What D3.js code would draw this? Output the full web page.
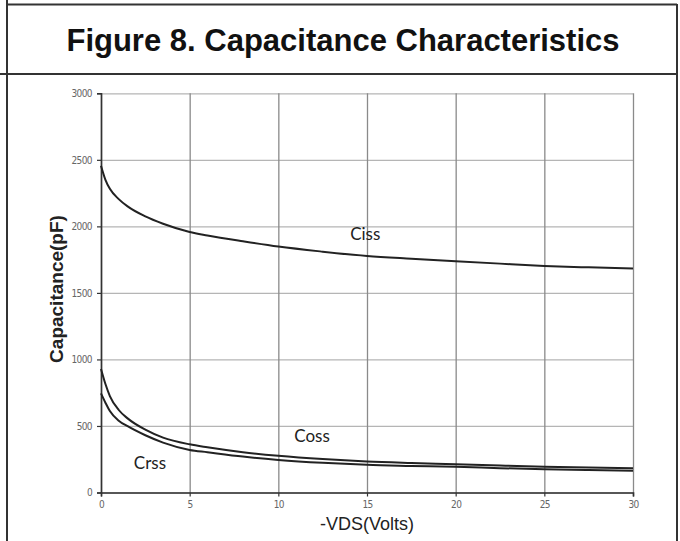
<!DOCTYPE html>
<html>
<head>
<meta charset="utf-8">
<script src="https://cdn.jsdelivr.net/npm/d3@7"></script>
<style>
  html, body { margin: 0; padding: 0; background: #fff; }
  svg { display: block; }
</style>
</head>
<body>
<svg id="chart" width="680" height="541"></svg>
<script>
// ---- data ----
const titleText = "Figure 8. Capacitance Characteristics";
const xLabel = "-VDS(Volts)";
const yLabel = "Capacitance(pF)";
const volts = [0, 0.25, 0.5, 1, 1.5, 2.5, 3.5, 5, 6, 8, 10, 12.5, 15, 17.5, 20, 22.5, 25, 27.5, 30];
const ciss  = [2456, 2350, 2282, 2205, 2150, 2075, 2020, 1958, 1932, 1888, 1848, 1810, 1778, 1757, 1738, 1720, 1703, 1692, 1683];
const coss  = [928, 815, 725, 620, 557, 472, 412, 362, 340, 303, 276, 251, 233, 222, 213, 203, 194, 188, 182];
const crss  = [745, 675, 612, 540, 498, 430, 375, 320, 303, 270, 245, 223, 208, 200, 193, 183, 175, 169, 164];
const seriesNames = ["Ciss", "Coss", "Crss"];
const labelPos = [[14.9, 1950], [11.9, 425], [2.76, 222]];
const xTicks = [0, 5, 10, 15, 20, 25, 30];
const yTicks = [0, 500, 1000, 1500, 2000, 2500, 3000];

// ---- drawing ----
const svg = d3.select("#chart");
const W = 680, H = 541;
svg.append("rect").attr("width", W).attr("height", H).attr("fill", "#fff");

// frame / table lines
const frame = svg.append("g").attr("stroke", "#333").attr("stroke-width", 2).attr("fill", "none");
frame.append("line").attr("x1", 7).attr("x2", 7).attr("y1", 0).attr("y2", H);
frame.append("line").attr("x1", 677).attr("x2", 677).attr("y1", 4).attr("y2", H);
frame.append("line").attr("x1", 7).attr("x2", 677).attr("y1", 4.5).attr("y2", 4.5);
frame.append("line").attr("x1", 0).attr("x2", 677).attr("y1", 74).attr("y2", 74);

svg.append("text")
  .attr("x", 343).attr("y", 51)
  .attr("text-anchor", "middle")
  .attr("font-family", "'Liberation Sans', Arial, sans-serif")
  .attr("font-weight", "bold")
  .attr("font-size", 31)
  .attr("fill", "#111")
  .text(titleText);

const x = d3.scaleLinear().domain([0, 30]).range([101, 633]);
const y = d3.scaleLinear().domain([0, 3000]).range([492.5, 93.3]);

// grid
const gridY = svg.append("g").attr("transform", `translate(${x(0)},0)`)
  .call(d3.axisLeft(y).tickValues(yTicks).tickSize(-(x(30) - x(0))).tickFormat(""));
gridY.select(".domain").remove();
gridY.selectAll("line").attr("stroke", "#b5b5b5").attr("stroke-width", 1.3);

const gridX = svg.append("g").attr("transform", `translate(0,${y(0)})`)
  .call(d3.axisBottom(x).tickValues(xTicks).tickSize(-(y(0) - y(3000))).tickFormat(""));
gridX.select(".domain").remove();
gridX.selectAll("line").attr("stroke", "#8a8a8a").attr("stroke-width", 1.3);

// axes
const tickFont = "'Liberation Sans Narrow', 'DejaVu Sans Condensed', sans-serif";
const ax = svg.append("g").attr("transform", `translate(${x(0)},0)`)
  .call(d3.axisLeft(y).tickValues(yTicks).tickSize(4).tickPadding(5).tickFormat(d3.format("d")));
ax.select(".domain").attr("stroke", "#333").attr("stroke-width", 1.6);
ax.selectAll(".tick line").attr("stroke", "#333").attr("stroke-width", 1.2);
ax.selectAll("text").attr("font-family", tickFont).attr("font-size", 10).attr("fill", "#666").attr("letter-spacing", -0.6);

const bx = svg.append("g").attr("transform", `translate(0,${y(0)})`)
  .call(d3.axisBottom(x).tickValues(xTicks).tickSize(4).tickPadding(4).tickFormat(d3.format("d")));
bx.select(".domain").attr("stroke", "#333").attr("stroke-width", 1.6);
bx.selectAll(".tick line").attr("stroke", "#333").attr("stroke-width", 1.2);
bx.selectAll("text").attr("font-family", tickFont).attr("font-size", 10).attr("fill", "#666").attr("letter-spacing", -0.6);

// curves
const line = d3.line().x(d => x(d[0])).y(d => y(d[1])).curve(d3.curveMonotoneX);
[ciss, coss, crss].forEach(vals => {
  svg.append("path")
    .datum(volts.map((v, i) => [v, vals[i]]))
    .attr("d", line)
    .attr("fill", "none")
    .attr("stroke", "#222")
    .attr("stroke-width", 2);
});

// curve labels
seriesNames.forEach((n, i) => {
  svg.append("text")
    .attr("x", x(labelPos[i][0])).attr("y", y(labelPos[i][1]))
    .attr("text-anchor", "middle").attr("dominant-baseline", "central")
    .attr("font-family", "Lato, 'Open Sans', sans-serif")
    .attr("font-size", 17).attr("fill", "#222")
    .text(n);
});

// axis titles
svg.append("text")
  .attr("x", 367).attr("y", 530)
  .attr("text-anchor", "middle")
  .attr("font-family", "'Liberation Sans', Arial, sans-serif")
  .attr("font-size", 18).attr("fill", "#222")
  .text(xLabel);

svg.append("text")
  .attr("transform", "translate(63,289) rotate(-90)")
  .attr("text-anchor", "middle")
  .attr("font-family", "'Liberation Sans', Arial, sans-serif")
  .attr("font-weight", "bold")
  .attr("font-size", 19).attr("fill", "#222")
  .text(yLabel);
</script>
</body>
</html>
